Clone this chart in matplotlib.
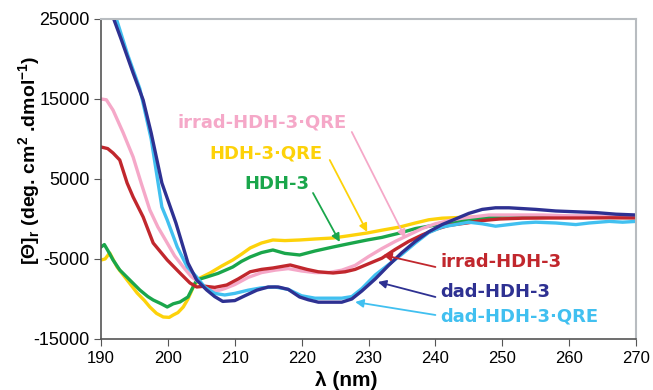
import matplotlib
matplotlib.use('Agg')
import matplotlib.pyplot as plt

plt.rcParams['font.family'] = ['Liberation Sans', 'DejaVu Sans']
plt.rcParams['mathtext.fontset'] = 'custom'
plt.rcParams['mathtext.rm'] = 'Liberation Sans'
plt.rcParams['mathtext.bf'] = 'Liberation Sans:bold'
plt.rcParams['axes.unicode_minus'] = False

# dad-HDH-3 (dark blue)
dad_x = [191.9, 193, 194.8, 196.3, 197.5, 199.1, 201.2, 203.0, 204.3, 205.8, 207, 208.2, 210,
         211.5, 213.3, 215, 216.5, 218, 219.7, 221, 222.5, 224, 226, 227.5, 229, 231, 233, 235,
         237, 239, 241, 243, 245, 247, 249, 251, 253, 255, 258, 261, 264, 267, 270]
dad_y = [25000, 22500, 18250, 14875, 10750, 4500, -500, -5500, -7625, -8875, -9700, -10300, -10200,
         -9600, -8900, -8500, -8500, -8800, -9750, -10100, -10400, -10400, -10400, -10000, -9000,
         -7500, -5800, -4200, -2800, -1600, -700, 0, 700, 1200, 1400, 1400, 1300, 1200, 1000, 900,
         800, 600, 500]

# dad-HDH-3·QRE (light blue)
dadq_x = [192.3, 194, 195.8, 197.5, 199.1, 199.9, 201.4, 202.9, 204.3, 205.5, 207, 208.5, 210,
          212, 214, 216, 218, 220, 222, 224, 226, 227.5, 229, 231, 233, 235, 237, 239, 241, 243,
          245, 247, 249, 251, 253, 255, 258, 261, 263, 266, 268, 270]
dadq_y = [25000, 20500, 16300, 10000, 1500, -125, -3500, -6000, -7250, -8500, -9300, -9500, -9300,
          -8900, -8600, -8500, -8800, -9600, -9900, -9900, -9900, -9700, -8700, -7000, -5700,
          -4400, -3000, -1700, -1000, -700, -400, -600, -900, -700, -500, -400, -500, -700, -500,
          -300, -400, -300]

# irrad-HDH-3·QRE (pink)
irq_x = [190, 190.8, 191.8, 193.3, 194.8, 196, 197.3, 198.5, 199.9, 201, 202.3, 203.5, 204.8,
         206, 207.3, 208.5, 210, 212, 214, 216, 218, 220, 222, 224, 226, 228, 230, 232, 234,
         236, 238, 240, 242, 244, 246, 248, 250, 253, 256, 260, 264, 267, 270]
irq_y = [15000, 14900, 13600, 10800, 7750, 4500, 1125, -1000, -3000, -4600, -6000, -7200, -8000,
         -8700, -9000, -8700, -8200, -7300, -6700, -6400, -6200, -6500, -6700, -6700, -6400, -5800,
         -4700, -3700, -2800, -2000, -1200, -600, -200, 100, 300, 500, 500, 500, 500, 400, 400,
         300, 250]

# irrad-HDH-3 (red)
ir_x = [190, 191, 191.8, 192.8, 193.9, 194.8, 196.3, 197.8, 199.9, 201.8, 203.3, 204.3, 205.5,
        207, 208.8, 210.5, 212.3, 214, 215.7, 218.3, 220.8, 222.5, 224.7, 226.5, 228, 230, 232,
        234, 236, 238, 240, 242, 244.7, 247, 249.6, 253, 257, 262, 266, 270]
ir_y = [9000, 8800, 8250, 7375, 4500, 2750, 250, -3000, -5125, -6750, -8000, -8500, -8400, -8550,
        -8250, -7500, -6600, -6300, -6125, -5750, -6300, -6600, -6750, -6600, -6300, -5600, -4900,
        -3800, -2800, -2000, -1300, -800, -500, -200, 0, 100, 125, 125, 150, 125]

# HDH-3·QRE (yellow)
hq_x = [190, 190.6, 191.3, 192.4, 193.9, 195.4, 196.5, 197.3, 198.3, 199.3, 200.2, 200.8, 201.5,
        202.3, 203.0, 203.8, 204.8, 206.3, 208, 209.7, 211, 212.3, 214, 215.7, 217.5, 219.7, 222,
        224.7, 227, 229.8, 232, 234.7, 237, 239, 241, 244, 248, 252, 256, 260, 265, 270]
hq_y = [-5125, -5000, -4250, -6000, -7625, -9250, -10200, -11000, -11800, -12250, -12300, -12000,
        -11700, -11000, -10000, -8500, -7375, -6750, -5900, -5125, -4400, -3625, -3000, -2625,
        -2700, -2625, -2500, -2375, -2100, -1750, -1400, -1000, -500, -100, 100, 200, 250, 300,
        300, 250, 200, 200]

# HDH-3 (green)
h_x = [190, 190.5, 191.2, 191.8, 192.8, 194.3, 195.8, 197, 197.8, 199, 199.9, 200.8, 201.8, 203,
       204.3, 205.8, 207.5, 209.7, 211, 212.3, 214, 215.7, 217.5, 219.7, 222, 224.7, 227, 229.8,
       232, 234.7, 237, 240, 242.5, 245, 248, 250, 254, 258, 262, 266, 270]
h_y = [-3500, -3200, -4200, -5125, -6375, -7625, -8875, -9700, -10125, -10600, -11000, -10600,
       -10375, -9750, -7625, -7250, -6800, -6000, -5300, -4750, -4200, -3875, -4300, -4500, -4000,
       -3500, -3100, -2625, -2300, -1750, -1200, -750, -400, -125, 200, 375, 350, 300, 250, 250,
       200]

c_dad = '#2e3192'
c_dadq = '#41c0f0'
c_irq = '#f5a8c8'
c_ir = '#c1272d'
c_hq = '#fdd20a'
c_h = '#1aa64b'

fig = plt.figure(figsize=(6.53, 3.90), dpi=100)
ax = fig.add_axes([0.1547, 0.1308, 0.8193, 0.8205])

lw = 2.4
ax.plot(hq_x, hq_y, color=c_hq, lw=lw)
ax.plot(h_x, h_y, color=c_h, lw=lw)
ax.plot(irq_x, irq_y, color=c_irq, lw=lw)
ax.plot(ir_x, ir_y, color=c_ir, lw=lw)
ax.plot(dadq_x, dadq_y, color=c_dadq, lw=lw)
ax.plot(dad_x, dad_y, color=c_dad, lw=lw)

ax.set_xlim(190, 270)
ax.set_ylim(-15000, 25000)
ax.set_xticks(range(190, 271, 10))
ax.set_yticks([-15000, -5000, 5000, 15000, 25000])
ax.tick_params(axis='x', labelsize=12, direction='out', length=5, color='#555555', pad=4)
ax.tick_params(axis='y', labelsize=13, direction='out', length=5, color='#555555', pad=3)

for s in ['left', 'bottom']:
    ax.spines[s].set_color('#555555')
    ax.spines[s].set_linewidth(1.2)
for s in ['top', 'right']:
    ax.spines[s].set_color('#b8bcc0')
    ax.spines[s].set_linewidth(1.5)

fig.text(346 / 653, 1 - 380 / 390, 'λ (nm)', ha='center', va='center',
         fontsize=15, fontweight='bold')
fig.text(30 / 653, 1 - 160 / 390,
         r'[Θ]$_\mathregular{r}$ (deg. cm$^\mathregular{2}$ .dmol$^\mathregular{-1}$)',
         ha='center', va='center', rotation=90, fontsize=14, fontweight='bold')

# labels with arrows
labels = [
    ('irrad-HDH-3·QRE', c_irq, (214.1, 12000), 'center', (227.5, 10875), (235.5, -2375)),
    ('HDH-3·QRE', c_hq, (214.7, 8125), 'center', (224.2, 7375), (229.8, -1625)),
    ('HDH-3', c_h, (216.3, 4375), 'center', (221.7, 3250), (225.7, -2875)),
    ('irrad-HDH-3', c_ir, (240.7, -5375), 'left', (240.0, -6000), (232.2, -4500)),
    ('dad-HDH-3', c_dad, (240.7, -9125), 'left', (240.0, -9750), (231.4, -7875)),
    ('dad-HDH-3·QRE', c_dadq, (240.7, -12250), 'left', (240.0, -12000), (228.0, -10375)),
]
for txt, col, pos, ha, start, tip in labels:
    ax.text(pos[0], pos[1], txt, color=col, ha=ha, va='center', fontsize=13,
            fontweight='bold', family=['DejaVu Sans'])
    ax.annotate('', xy=tip, xytext=start,
                arrowprops=dict(arrowstyle='-|>', color=col, lw=1.3, mutation_scale=12,
                                shrinkA=0, shrinkB=0))

fig.savefig('out.png', dpi=100)
